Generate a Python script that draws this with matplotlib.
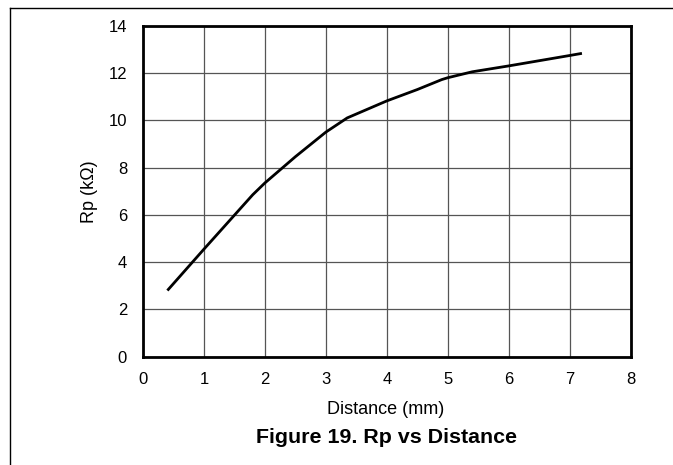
import matplotlib
matplotlib.use("Agg")
import matplotlib.pyplot as plt
from matplotlib.lines import Line2D

distance_mm = [0.4, 1.0, 1.8, 2.0, 2.5, 3.0, 3.35, 4.0, 4.5, 4.9, 5.0, 5.4, 6.0, 7.0, 7.2]
rp_kohm = [2.8, 4.55, 6.85, 7.35, 8.46, 9.5, 10.1, 10.82, 11.3, 11.72, 11.8, 12.05, 12.3, 12.74, 12.83]
x_ticks = [0, 1, 2, 3, 4, 5, 6, 7, 8]
y_ticks = [0, 2, 4, 6, 8, 10, 12, 14]

plt.rcParams['font.family'] = ['Liberation Sans', 'DejaVu Sans']

fig = plt.figure(figsize=(6.73, 4.65), dpi=100)
ax = fig.add_axes([143/673, 1 - 356.7/465, (630.7 - 143)/673, (356.7 - 25.7)/465])

ax.plot(distance_mm, rp_kohm, color='black', linewidth=2.0, solid_capstyle='butt', zorder=3)

ax.set_xlim(0, 8)
ax.set_ylim(0, 14)
ax.set_xticks(x_ticks)
ax.set_yticks(y_ticks)
ax.grid(True, color='#555555', linewidth=0.9)
ax.set_axisbelow(True)
for s in ax.spines.values():
    s.set_linewidth(2.0)
    s.set_color('black')
ax.tick_params(axis='both', length=0, labelsize=12)
ax.tick_params(axis='x', pad=11)
ax.tick_params(axis='y', pad=11.5)

fig.text(89.5/673, 1 - 192/465, 'Rp (kΩ)', ha='center', va='center', rotation=90, fontsize=13)
fig.text(386/673, 1 - 409/465, 'Distance (mm)', ha='center', va='center', fontsize=13)
fig.text(386/673, 1 - 437/465, 'Figure 19. Rp vs Distance', ha='center', va='center',
         fontsize=15.4, fontweight='bold')

# page frame lines (left and top)
fig.add_artist(Line2D([10/673, 10/673], [0, 1 - 8/465], color='black', linewidth=1.0,
                      transform=fig.transFigure))
fig.add_artist(Line2D([10/673, 1], [1 - 8/465, 1 - 8/465], color='black', linewidth=1.0,
                      transform=fig.transFigure))

fig.savefig('out.png', dpi=100)
